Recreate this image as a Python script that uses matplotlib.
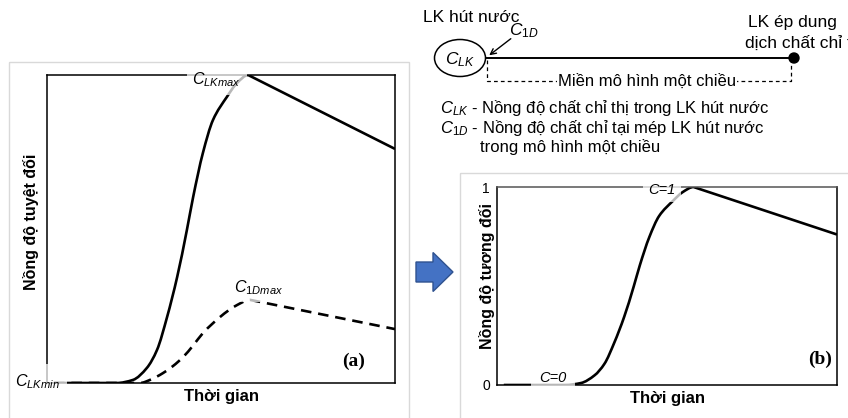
import numpy as np
import matplotlib
matplotlib.use("Agg")
from matplotlib import pyplot as plt
from matplotlib.patches import Ellipse, Circle, Rectangle, FancyArrow, PathPatch
from matplotlib.path import Path

plt.rcParams['font.family'] = ['Liberation Sans', 'DejaVu Sans']
plt.rcParams['mathtext.fontset'] = 'custom'
plt.rcParams['mathtext.it'] = 'Liberation Sans:italic'
plt.rcParams['mathtext.rm'] = 'Liberation Sans'

# data (time in % of axis width, concentration 0..1)
t_lk = [2, 10, 20, 24.7, 28.7, 31.6, 34.5, 37.4, 40.2, 42.0, 44.8, 47.7, 51.7, 54.6, 57.8, 100]
c_lk = [0, 0, 0, 0.01, 0.049, 0.107, 0.214, 0.344, 0.497, 0.604, 0.747, 0.854, 0.929, 0.974, 1.0, 0.76]

t_1d = [2, 10, 20, 26.7, 30.0, 33.3, 36.2, 39.1, 42.0, 44.8, 47.3, 49.7, 52.2, 54.6, 58.3, 100]
c_1d = [0, 0, 0, 0, 0.012, 0.032, 0.055, 0.084, 0.122, 0.162, 0.190, 0.214, 0.236, 0.253, 0.27, 0.175]

c_lk = np.array(c_lk)
c_rel = (c_lk - c_lk.min()) / (c_lk.max() - c_lk.min())


def smooth_path(x, y):
    # smoothed line (like Excel) through the points up to the peak, straight after it
    x = np.asarray(x, float)
    y = np.asarray(y, float)
    k = int(np.argmax(y))
    h = np.diff(x[:k + 1])
    d = np.diff(y[:k + 1]) / h
    m = np.zeros(k + 1)
    m[0] = d[0]
    for i in range(1, k):
        if d[i - 1] * d[i] > 0:
            w1 = 2 * h[i] + h[i - 1]
            w2 = h[i] + 2 * h[i - 1]
            m[i] = (w1 + w2) / (w1 / d[i - 1] + w2 / d[i])
    m[k] = 0
    verts = [(x[0], y[0])]
    codes = [Path.MOVETO]
    for i in range(k):
        verts += [(x[i] + h[i] / 3, y[i] + m[i] * h[i] / 3),
                  (x[i + 1] - h[i] / 3, y[i + 1] - m[i + 1] * h[i] / 3),
                  (x[i + 1], y[i + 1])]
        codes += [Path.CURVE4] * 3
    for j in range(k + 1, len(x)):
        verts.append((x[j], y[j]))
        codes.append(Path.LINETO)
    return Path(verts, codes)


W, H = 848, 418
fig = plt.figure(figsize=(W / 100, H / 100), dpi=100)


def px_axes(l, t, r, b, **kw):
    return fig.add_axes([l / W, 1 - b / H, (r - l) / W, (b - t) / H], **kw)


label_box = dict(boxstyle='square,pad=0.35', fc='white', ec='none', alpha=0.72)

# ---- panel (a)
ax1 = px_axes(47, 75, 395, 383)
ax1.add_patch(PathPatch(smooth_path(t_lk, c_lk), fill=False, ec='black', lw=1.9,
                        capstyle='butt', zorder=2))
ax1.add_patch(PathPatch(smooth_path(t_1d, c_1d), fill=False, ec='black', lw=1.9,
                        ls=(0, (4, 2.6)), zorder=2))
ax1.set_xlim(0, 100)
ax1.set_ylim(0, 1)
ax1.set_xticks([])
ax1.set_yticks([])
for s in ax1.spines.values():
    s.set_linewidth(1.1)
ax1.set_xlabel("Thời gian", fontsize=12, fontweight='bold', labelpad=4)
ax1.set_ylabel("Nồng độ tuyệt đối", fontsize=11.5, fontweight='bold')
ax1.yaxis.set_label_coords(-0.024, 0.523)
ax1.text(48.8, 0.985, r'$C_{LKmax}$', fontsize=11.5, ha='center', va='center',
         bbox=label_box, zorder=5, clip_on=False)
ax1.text(60.9, 0.31, r'$C_{1Dmax}$', fontsize=11.5, ha='center', va='center',
         bbox=label_box, zorder=5, clip_on=False)
ax1.text(-2.9, 0.006, r'$C_{LKmin}$', fontsize=11.5, ha='center', va='center',
         bbox=dict(boxstyle='square,pad=0.5', fc='white', ec='none', alpha=0.72),
         zorder=5, clip_on=False)
ax1.text(88, 0.07, "(a)", fontsize=14, fontweight='bold', family='Liberation Serif',
         ha='center', va='center')

# ---- panel (b)
ax2 = px_axes(497, 187, 837, 385)
ax2.add_patch(PathPatch(smooth_path(t_lk, c_rel), fill=False, ec='black', lw=1.9, zorder=2))
ax2.set_xlim(0, 100)
ax2.set_ylim(0, 1)
ax2.set_xticks([])
ax2.set_yticks([0, 1])
ax2.set_yticklabels(['0', '1'], fontsize=10)
ax2.tick_params(axis='y', length=0, pad=5)
for s in ax2.spines.values():
    s.set_linewidth(1.1)
ax2.spines['top'].set_color('#555555')
ax2.set_xlabel("Thời gian", fontsize=12, fontweight='bold', labelpad=4)
ax2.set_ylabel("Nồng độ tương đối", fontsize=11.5, fontweight='bold')
ax2.yaxis.set_label_coords(-0.006, 0.55)
ax2.text(48.5, 0.985, "C=1", fontsize=10.5, style='italic', ha='center', va='center',
         bbox=label_box, zorder=5, clip_on=False)
ax2.text(16.5, 0.035, "C=0", fontsize=10.5, style='italic', ha='center', va='center',
         bbox=dict(boxstyle='square,pad=0.55', fc='white', ec='none', alpha=0.72),
         zorder=5, clip_on=False)
ax2.text(95, 0.13, "(b)", fontsize=14, fontweight='bold', family='Liberation Serif',
         ha='center', va='center')

# ---- overlay: frames, arrow, schematic
ov = fig.add_axes([0, 0, 1, 1], zorder=5)
ov.set_xlim(0, W)
ov.set_ylim(H, 0)
ov.axis('off')
ov.patch.set_alpha(0)

ov.add_patch(Rectangle((9, 62), 400, 370, fill=False, ec='#d9d9d9', lw=1))
ov.add_patch(Rectangle((460, 173), 400, 260, fill=False, ec='#d9d9d9', lw=1))

# blue block arrow
ov.add_patch(FancyArrow(416, 272, 37, 0, width=20, head_width=39, head_length=20,
                        length_includes_head=True, fc='#4472C4', ec='#2F528F', lw=1))

# schematic
ov.add_patch(Ellipse((460, 58), 51, 37, fill=False, ec='black', lw=1.1))
ov.text(460, 60, r'$C_{LK}$', fontsize=12.5, ha='center', va='center')
ov.plot([486, 794], [58, 58], color='black', lw=1.4)
ov.add_patch(Circle((794, 58), 5, fc='black', ec='black'))
ov.plot([487, 487, 791, 791], [60, 81, 81, 60], color='black', lw=0.9, ls=(0, (3, 2.5)))
ov.text(647, 81, "Miền mô hình một chiều", fontsize=12, ha='center', va='center',
        bbox=dict(boxstyle='square,pad=0.05', fc='white', ec='none'))
ov.text(423, 17, "LK hút nước", fontsize=12.5, ha='left', va='center')
ov.text(524, 31, r'$C_{1D}$', fontsize=12.5, ha='center', va='center')
ov.annotate('', xy=(487, 57), xytext=(513, 37),
            arrowprops=dict(arrowstyle='->', color='black', lw=1, mutation_scale=10))
ov.text(748, 22, "LK ép dung", fontsize=12.5, ha='left', va='center')
ov.text(745, 43, "dịch chất chỉ thị", fontsize=12.5, ha='left', va='center', clip_on=False)
ov.text(440, 108, r'$C_{LK}$' + " - Nồng độ chất chỉ thị trong LK hút nước",
        fontsize=12, ha='left', va='center')
ov.text(440, 128, r'$C_{1D}$' + " - Nồng độ chất chỉ tại mép LK hút nước",
        fontsize=12, ha='left', va='center')
ov.text(480, 147, "trong mô hình một chiều", fontsize=12, ha='left', va='center')

fig.savefig("out.png", dpi=100)
